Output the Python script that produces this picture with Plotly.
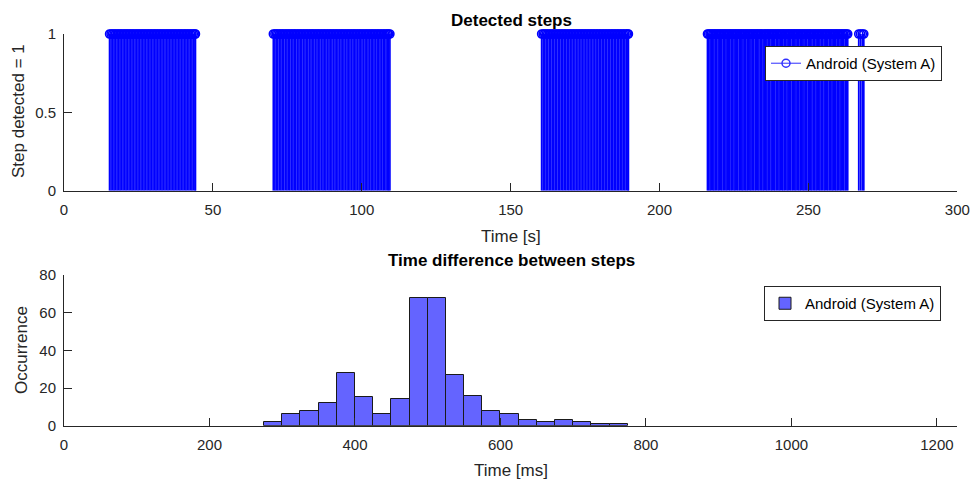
import plotly.graph_objects as go

# ---------------- data ----------------
# detected step times [s] (each step -> value 1)
steps_walk1 = [15.3, 15.8, 16.32, 16.81, 17.3, 17.82, 18.33, 18.82, 19.31, 19.83, 20.35, 20.84,
               21.33, 21.85, 22.36, 22.85, 23.34, 23.86, 24.38, 24.87, 25.36, 25.88, 26.39, 26.88,
               27.37, 27.89, 28.4, 28.89, 29.38, 29.9, 30.41, 30.9, 31.39, 31.91, 32.42, 32.91,
               33.4, 33.92, 34.43, 34.92, 35.41, 35.93, 36.44, 36.93, 37.42, 37.94, 38.45, 38.94,
               39.43, 39.95, 40.46, 40.95, 41.44, 41.96, 42.47, 42.96, 43.45, 43.97, 44.15]
steps_walk2 = [70.3, 70.82, 71.31, 71.8, 72.33, 72.84, 73.33, 73.82, 74.35, 74.86, 75.35, 75.84,
               76.37, 76.88, 77.37, 77.86, 78.39, 78.9, 79.39, 79.88, 80.41, 80.92, 81.41, 81.9,
               82.43, 82.94, 83.43, 83.92, 84.45, 84.96, 85.45, 85.94, 86.47, 86.98, 87.47, 87.96,
               88.49, 89.0, 89.49, 89.98, 90.51, 91.02, 91.51, 92.0, 92.53, 93.04, 93.53, 94.02,
               94.55, 95.06, 95.55, 96.04, 96.57, 97.08, 97.57, 98.06, 98.59, 99.1, 99.59, 100.08,
               100.61, 101.12, 101.61, 102.1, 102.63, 103.14, 103.63, 104.12, 104.65, 105.16,
               105.65, 106.14, 106.67, 107.18, 107.67, 108.16, 108.69, 109.0, 109.45]
steps_walk3 = [160.4, 160.91, 161.42, 161.92, 162.43, 162.95, 163.45, 163.96, 164.47, 164.97,
               165.48, 166.0, 166.5, 167.01, 167.52, 168.02, 168.53, 169.05, 169.55, 170.06,
               170.57, 171.07, 171.58, 172.1, 172.6, 173.11, 173.62, 174.12, 174.63, 175.15,
               175.65, 176.16, 176.67, 177.17, 177.68, 178.2, 178.7, 179.21, 179.72, 180.22,
               180.73, 181.25, 181.75, 182.26, 182.77, 183.27, 183.78, 184.3, 184.8, 185.31,
               185.82, 186.32, 186.83, 187.35, 187.85, 188.36, 188.87, 189.37, 189.55]
steps_walk4 = [216.1, 216.49, 216.97, 217.37, 217.88, 218.27, 218.75, 219.15, 219.66, 220.05,
               220.53, 220.93, 221.44, 221.83, 222.31, 222.71, 223.22, 223.61, 224.09, 224.49,
               225.0, 225.39, 225.87, 226.27, 226.78, 227.17, 227.65, 228.05, 228.56, 228.95,
               229.43, 229.83, 230.34, 230.73, 231.21, 231.61, 232.12, 232.51, 232.99, 233.39,
               233.9, 234.29, 234.77, 235.17, 235.68, 236.07, 236.55, 236.95, 237.46, 237.85,
               238.33, 238.73, 239.24, 239.63, 240.11, 240.51, 241.02, 241.41, 241.89, 242.29,
               242.8, 243.19, 243.67, 244.07, 244.58, 244.97, 245.45, 245.85, 246.36, 246.75,
               247.23, 247.63, 248.14, 248.53, 249.01, 249.41, 249.92, 250.31, 250.79, 251.19,
               251.7, 252.09, 252.57, 252.97, 253.48, 253.87, 254.35, 254.75, 255.26, 255.65,
               256.13, 256.53, 257.04, 257.43, 257.91, 258.31, 258.82, 259.21, 259.69, 260.09,
               260.6, 260.99, 261.47, 261.87, 262.38, 262.77, 263.2]
steps_walk5 = [266.9, 267.5, 268.1, 268.6]

# histogram of time difference between steps [ms]
bin_left_edges = [275, 300, 325, 350, 375, 400, 425, 450, 475, 500,
                  525, 550, 575, 600, 625, 650, 675, 700, 725, 750]
bin_counts = [2, 6, 8, 12, 28, 15, 6, 14, 68, 68,
              27, 16, 8, 6, 3, 2, 3, 2, 1, 1]
bin_width = 25

legend_name = "Android (System A)"

# ---------------- figure ----------------
W, H = 974, 479
step_times = steps_walk1 + steps_walk2 + steps_walk3 + steps_walk4 + steps_walk5

stem_x, stem_y = [], []
for t in step_times:
    stem_x += [t, t, None]
    stem_y += [0, 1, None]

BLUE = "#0000FF"
AX = "#262626"
FONT = "Liberation Sans, Arial, sans-serif"

fig = go.Figure()
fig.add_trace(go.Scatter(x=stem_x, y=stem_y, mode="lines",
                         line=dict(color=BLUE, width=1.7),
                         showlegend=False, hoverinfo="skip", cliponaxis=False,
                         xaxis="x", yaxis="y"))
fig.add_trace(go.Scatter(x=step_times, y=[1] * len(step_times), mode="markers",
                         marker=dict(symbol="circle-open", size=8, color=BLUE,
                                     line=dict(width=1.6, color=BLUE)),
                         showlegend=False, cliponaxis=False, xaxis="x", yaxis="y"))
fig.add_trace(go.Scatter(x=[None], y=[None], mode="lines+markers", name=legend_name,
                         line=dict(color="#5050FF", width=1.2),
                         marker=dict(symbol="circle-open", size=8, color="#3030FF",
                                     line=dict(width=1.5, color="#3030FF")),
                         xaxis="x", yaxis="y", legend="legend"))

fig.add_trace(go.Bar(x=[e + bin_width / 2 for e in bin_left_edges], y=bin_counts,
                     width=bin_width, name=legend_name,
                     marker=dict(color="#6464FF", line=dict(color="#1a1a1a", width=1)),
                     xaxis="x2", yaxis="y2", legend="legend2"))

xdom = [64 / W, 957.3 / W]
axis_common = dict(showgrid=False, zeroline=False, showline=True, linecolor=AX,
                   linewidth=1, ticks="inside", ticklen=8, tickwidth=1, tickcolor=AX,
                   tickfont=dict(family=FONT, size=15, color=AX), mirror=False,
                   automargin=False)

fig.update_layout(
    width=W, height=H, autosize=False,
    margin=dict(l=0, r=0, t=0, b=0, pad=0, autoexpand=False),
    paper_bgcolor="white", plot_bgcolor="white",
    font=dict(family=FONT, color=AX),
    bargap=0,
    xaxis=dict(domain=xdom, anchor="y", range=[0, 300],
               tickvals=[0, 50, 100, 150, 200, 250, 300], ticklabelstandoff=5, **axis_common),
    yaxis=dict(domain=[(H - 190.7) / H, (H - 34) / H], anchor="x", range=[0, 1],
               tickvals=[0, 0.5, 1], ticktext=["0", "0.5", "1"], ticklabelstandoff=4,
               **axis_common),
    xaxis2=dict(domain=xdom, anchor="y2", range=[0, 1228],
                tickvals=[0, 200, 400, 600, 800, 1000, 1200], ticklabelstandoff=5,
                **axis_common),
    yaxis2=dict(domain=[(H - 425.7) / H, (H - 275) / H], anchor="x2", range=[0, 80],
                tickvals=[0, 20, 40, 60, 80], ticklabelstandoff=4, **axis_common),
    legend=dict(x=942 / W, y=1 - 63.5 / H, xanchor="right", yanchor="middle",
                bgcolor="white", bordercolor=AX, borderwidth=1,
                font=dict(family=FONT, size=15, color="#000000"),
                itemwidth=30, tracegroupgap=0),
    legend2=dict(x=941 / W, y=1 - 303.5 / H, xanchor="right", yanchor="middle",
                 bgcolor="white", bordercolor=AX, borderwidth=1,
                 font=dict(family=FONT, size=15, color="#000000"),
                 itemwidth=30, tracegroupgap=0),
)

def ann(text, x, y, size, bold=False, angle=0, color=AX):
    fig.add_annotation(text=f"<b>{text}</b>" if bold else text,
                       x=x / W, y=1 - y / H, xref="paper", yref="paper",
                       xanchor="center", yanchor="middle", showarrow=False,
                       textangle=angle, font=dict(family=FONT, size=size, color=color))

ann("Detected steps", 511, 20, 17, bold=True, color="#000000")
ann("Time [s]", 511, 236, 17)
ann("Step detected = 1", 18, 111, 17, angle=-90)
ann("Time difference between steps", 511, 260, 17, bold=True, color="#000000")
ann("Time [ms]", 511, 470, 17)
ann("Occurrence", 21, 350, 17, angle=-90)

fig.write_html("out.html")
